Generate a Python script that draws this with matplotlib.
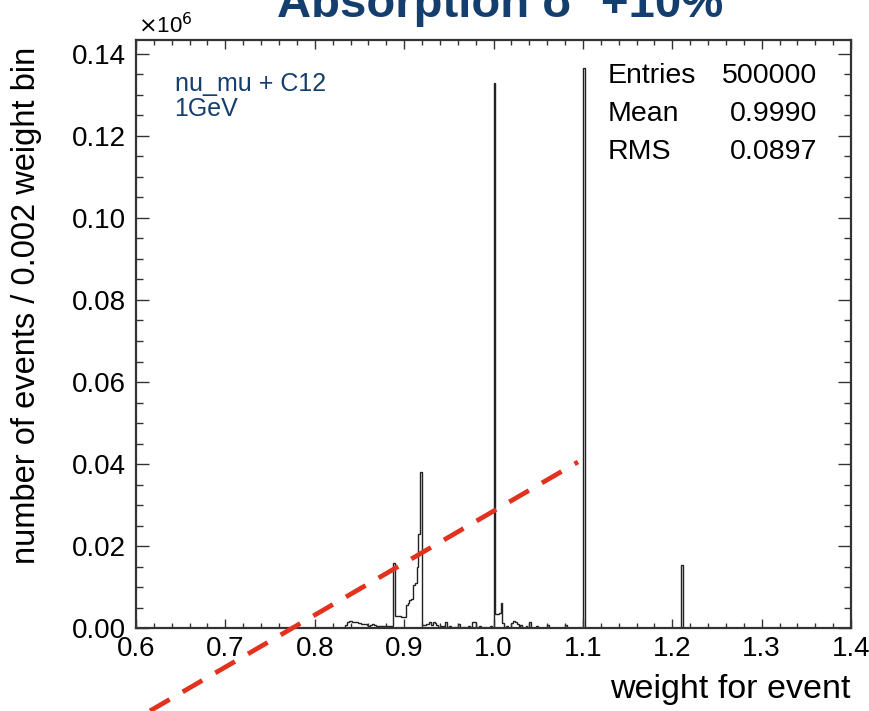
import numpy as np
import matplotlib
matplotlib.use('Agg')
from matplotlib import pyplot as plt
from matplotlib.ticker import MultipleLocator

plt.rcParams['font.family'] = ['Liberation Sans', 'DejaVu Sans']

# non-empty bins of the weight histogram (left bin edge, events)
bin_left = [0.834, 0.836, 0.838, 0.840, 0.842, 0.844, 0.846, 0.848, 0.850, 0.852,
            0.854, 0.856, 0.858, 0.860, 0.862, 0.864, 0.866, 0.868, 0.870, 0.872,
            0.874, 0.876, 0.878, 0.880, 0.882, 0.884, 0.886, 0.888, 0.890, 0.892,
            0.894, 0.896, 0.898, 0.900, 0.902, 0.904, 0.906, 0.908, 0.910, 0.912,
            0.914, 0.916, 0.918, 0.920, 0.922, 0.924, 0.926, 0.928, 0.930, 0.932,
            0.934, 0.936, 0.940, 0.944, 0.946, 0.950, 0.956, 0.960, 0.966, 0.972,
            0.976, 0.978, 0.984, 0.990, 0.996, 1.000, 1.002, 1.004, 1.006, 1.008,
            1.010, 1.014, 1.020, 1.022, 1.024, 1.026, 1.030, 1.036, 1.040, 1.048,
            1.060, 1.080, 1.100, 1.210]
events = [800, 1500, 1700, 1600, 1400, 1400, 1400, 1300, 1200, 900,
          1000, 1100, 700, 600, 800, 1000, 700, 500, 600, 500,
          400, 500, 600, 400, 500, 400, 600, 15900, 3000, 2900,
          2900, 2800, 2700, 2600, 5600, 6200, 6800, 7000, 10500, 11000,
          14900, 23000, 38000, 800, 700, 900, 1000, 1400, 800, 1500,
          1300, 700, 500, 400, 1500, 500, 300, 1000, 300, 400,
          1500, 1400, 400, 300, 400, 132900, 3400, 3400, 3600, 6100,
          1200, 600, 1300, 1600, 1500, 900, 700, 500, 1500, 400,
          700, 700, 136600, 15400]

entries = '500000'
mean = '0.9990'
rms = '0.0897'

# red dashed guide line drawn over the figure (data coords, x10^6)
guide_x = [0.6157, 1.0945]
guide_y = [-0.0202, 0.0405]

navy = '#143e6e'

edges = np.round(np.arange(0.6, 1.4 + 1e-9, 0.002), 3)
counts = np.zeros(len(edges) - 1)
for x, n in zip(bin_left, events):
    counts[int(round((x - 0.6) / 0.002))] = n / 1e6

fig = plt.figure(figsize=(8.69, 7.11), dpi=100)
ax = fig.add_axes([0.1565, 0.1167, 0.8228, 0.827])

ax.stairs(counts, edges, color='#222222', lw=1.0)

ax.set_xlim(0.6, 1.4)
ax.set_ylim(0, 0.1434)

ax.xaxis.set_minor_locator(MultipleLocator(0.02))
ax.yaxis.set_minor_locator(MultipleLocator(0.005))
ax.set_xticks(np.arange(0.6, 1.41, 0.1))
ax.set_xticklabels(['0.6', '0.7', '0.8', '0.9', '1.0', '1.1', '1.2', '1.3', '1.4'])
ax.set_yticks(np.arange(0, 0.141, 0.02))
ax.set_yticklabels(['%.2f' % v for v in np.arange(0, 0.141, 0.02)])

ax.tick_params(axis='both', which='both', direction='in', top=True, right=True,
               labelsize=20, width=1.0, colors='#333333', labelcolor='black')
ax.tick_params(axis='x', which='major', length=6.5, pad=6)
ax.tick_params(axis='x', which='minor', length=3.6)
ax.tick_params(axis='y', which='major', length=9.5, pad=7)
ax.tick_params(axis='y', which='minor', length=5)
for s in ax.spines.values():
    s.set_linewidth(1.6)
    s.set_color('#333333')

ax.set_ylabel('number of events / 0.002 weight bin', fontsize=23.5)
ax.yaxis.set_label_coords(-0.131, 0.548)
fig.text(851 / 869, 1 - 698 / 711, 'weight for event', fontsize=24.5,
         ha='right', va='baseline')

# x10^6 multiplier
fig.text(138 / 869, 1 - 33 / 711, r'$\times$10$^{6}$', fontsize=16, ha='left',
         va='baseline')

# title, cut at the top edge as in the original
fig.text(500 / 869, 1 - 17 / 711, 'Absorption σ  +10%', fontsize=34, fontweight='bold',
         color=navy, ha='center', va='baseline')

ax.text(0.054, 0.945, 'nu_mu + C12\n1GeV', transform=ax.transAxes, fontsize=18,
        color=navy, ha='left', va='top', linespacing=1.05)

rows = [('Entries', entries), ('Mean', mean), ('RMS', rms)]
for i, (k, v) in enumerate(rows):
    yy = 1 - (76 + 38 * i) / 711
    fig.text(608 / 869, yy, k, fontsize=20.5, ha='left', va='center')
    fig.text(817 / 869, yy, v, fontsize=20.5, ha='right', va='center')

ax.plot(guide_x, guide_y, color='#e2311d', lw=3.4, dashes=(4.8, 3.2),
        clip_on=False, solid_capstyle='butt', dash_capstyle='butt', zorder=5)

fig.savefig('out.png', dpi=100)
